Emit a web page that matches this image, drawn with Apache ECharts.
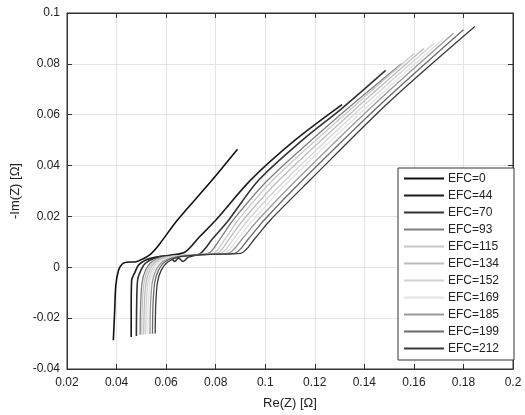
<!DOCTYPE html>
<html>
<head>
<meta charset="utf-8">
<script src="https://cdn.jsdelivr.net/npm/echarts@6/dist/echarts.min.js"></script>
<style>
    html, body { margin: 0; padding: 0; background: #fff; }
    #nyquist_chart { width: 525px; height: 415px; }
</style>
</head>
<body>
<div id="nyquist_chart"></div>
<script>
//曲线数据 [Re(Z), -Im(Z)] ----------------------------start
var efcNames = ['EFC=0', 'EFC=44', 'EFC=70', 'EFC=93', 'EFC=115', 'EFC=134', 'EFC=152', 'EFC=169', 'EFC=185', 'EFC=199', 'EFC=212'];
var efcColors = ['#111111', '#1c1c1c', '#333333', '#7f7f7f', '#c8c8c8', '#bcbcbc', '#d2d2d2', '#e2e2e2', '#9a9a9a', '#6a6a6a', '#3a3a3a'];

var efc0 = [[0.0387, -0.0287], [0.0392, -0.018], [0.0397, -0.0071], [0.0408, -0.0012], [0.0422, 0.0012], [0.0440, 0.0020], [0.0475, 0.0021], [0.0500, 0.0030], [0.0535, 0.0050], [0.0570, 0.0087], [0.0645, 0.0185], [0.0778, 0.0334], [0.0888, 0.0464]];
var efc44 = [[0.0459, -0.0274], [0.0459, -0.016], [0.0461, -0.0051], [0.0475, -0.0018], [0.0488, 0.0008], [0.0516, 0.0028], [0.0560, 0.0040], [0.0620, 0.0048], [0.0677, 0.0060], [0.0735, 0.0120], [0.0800, 0.0185], [0.0940, 0.0342], [0.1120, 0.0500], [0.1310, 0.0640]];
var efc70 = [[0.0480, -0.0270], [0.0481, -0.016], [0.0485, -0.0050], [0.0498, -0.0012], [0.0515, 0.0015], [0.0550, 0.0035], [0.0600, 0.0045], [0.0620, 0.0035], [0.0635, 0.0023], [0.0650, 0.0036], [0.0668, 0.0023], [0.0690, 0.0040], [0.0738, 0.0054], [0.0790, 0.0115], [0.0852, 0.0185], [0.0973, 0.0342], [0.1150, 0.0500], [0.1310, 0.0625], [0.1486, 0.0774]];
var efc93 = [[0.0495, -0.0265], [0.0497, -0.015], [0.0503, -0.006], [0.0517, -0.0012], [0.0542, 0.0022], [0.0590, 0.0040], [0.0680, 0.0048], [0.0770, 0.0055], [0.0820, 0.0115], [0.0870, 0.0185], [0.1010, 0.0342], [0.1280, 0.0580], [0.1550, 0.0800]];
var efc115 = [[0.0502, -0.0265], [0.0504, -0.015], [0.0511, -0.006], [0.0525, -0.0012], [0.0550, 0.0022], [0.0600, 0.0040], [0.0700, 0.0048], [0.0790, 0.0055], [0.0840, 0.0115], [0.0890, 0.0185], [0.1030, 0.0342], [0.1320, 0.0600], [0.1600, 0.0840]];
var efc134 = [[0.0510, -0.0264], [0.0512, -0.015], [0.0519, -0.006], [0.0533, -0.0012], [0.0558, 0.0022], [0.0610, 0.0040], [0.0710, 0.0049], [0.0805, 0.0055], [0.0857, 0.0115], [0.0910, 0.0185], [0.1055, 0.0342], [0.1350, 0.0610], [0.1640, 0.0860]];
var efc152 = [[0.0518, -0.0263], [0.0520, -0.015], [0.0527, -0.006], [0.0542, -0.0012], [0.0567, 0.0022], [0.0620, 0.0041], [0.0720, 0.0049], [0.0820, 0.0055], [0.0875, 0.0115], [0.0930, 0.0185], [0.1080, 0.0342], [0.1380, 0.0620], [0.1680, 0.0880]];
var efc169 = [[0.0526, -0.0262], [0.0528, -0.015], [0.0535, -0.006], [0.0550, -0.0012], [0.0576, 0.0022], [0.0630, 0.0041], [0.0730, 0.0050], [0.0835, 0.0055], [0.0892, 0.0115], [0.0950, 0.0185], [0.1100, 0.0342], [0.1410, 0.0630], [0.1720, 0.0900]];
var efc185 = [[0.0535, -0.0262], [0.0537, -0.015], [0.0544, -0.006], [0.0559, -0.0012], [0.0586, 0.0022], [0.0640, 0.0041], [0.0740, 0.0050], [0.0850, 0.0055], [0.0910, 0.0115], [0.0970, 0.0185], [0.1125, 0.0342], [0.1440, 0.0640], [0.1760, 0.0920]];
var efc199 = [[0.0545, -0.0261], [0.0547, -0.015], [0.0554, -0.006], [0.0569, -0.0012], [0.0596, 0.0022], [0.0650, 0.0042], [0.0760, 0.0051], [0.0875, 0.0055], [0.0935, 0.0115], [0.0995, 0.0185], [0.1150, 0.0342], [0.1470, 0.0645], [0.1800, 0.0934]];
var efc212 = [[0.0556, -0.0260], [0.0558, -0.015], [0.0565, -0.006], [0.0580, -0.0012], [0.0608, 0.0022], [0.0660, 0.0042], [0.0780, 0.0051], [0.0900, 0.0055], [0.0960, 0.0115], [0.1020, 0.0185], [0.1180, 0.0342], [0.1500, 0.0650], [0.1846, 0.0947]];
var efcData = [efc0, efc44, efc70, efc93, efc115, efc134, efc152, efc169, efc185, efc199, efc212];

//坐标轴刻度
var xTicks = [0.02, 0.04, 0.06, 0.08, 0.1, 0.12, 0.14, 0.16, 0.18, 0.2];
var yTicks = [-0.04, -0.02, 0, 0.02, 0.04, 0.06, 0.08, 0.1];
//曲线数据 ----------------------------end

var fontName = 'Liberation Sans, Arial, sans-serif';
var nyquistChartObj = echarts.init(document.getElementById('nyquist_chart'));

var seriesList = [];
for (var i = 0; i < efcData.length; i++) {
    seriesList.push({
        name: efcNames[i],
        type: 'line',
        data: efcData[i],
        symbol: 'none',
        smooth: 0.3,
        animation: false,
        lineStyle: {color: efcColors[i], width: i < 3 ? 1.6 : 1.3},
        itemStyle: {color: efcColors[i]}
    });
}

var tickStyle = {show: true, inside: true, length: 5, lineStyle: {color: '#333'}};

var nyquistChartObjOption = {
    backgroundColor: '#fff',
    animation: false,
    textStyle: {fontFamily: fontName},
    grid: {left: 67, right: 12, top: 13, bottom: 46, show: true, borderColor: '#333', borderWidth: 1},
    legend: {
        orient: 'vertical',
        left: 398,
        top: 168,
        data: efcNames,
        itemWidth: 40,
        itemHeight: 10,
        itemGap: 4,
        itemStyle: {opacity: 0},
        padding: [4, 15, 5, 5],
        backgroundColor: '#fff',
        borderColor: '#333',
        borderWidth: 1,
        borderRadius: 0,
        textStyle: {fontSize: 12, color: '#222', fontFamily: fontName, lineHeight: 13, padding: [0, 0, 0, -1]}
    },
    xAxis: [{
        type: 'value',
        min: xTicks[0],
        max: xTicks[xTicks.length - 1],
        interval: 0.02,
        name: 'Re(Z) [Ω]',
        nameLocation: 'middle',
        nameGap: 28,
        nameTextStyle: {fontSize: 13, color: '#222'},
        axisLine: {show: true, onZero: false, lineStyle: {color: '#333'}},
        axisTick: tickStyle,
        axisLabel: {fontSize: 12, color: '#222', margin: 8},
        splitLine: {show: true, lineStyle: {color: '#e4e4e4', width: 1}}
    }, {
        type: 'value',
        position: 'top',
        min: xTicks[0],
        max: xTicks[xTicks.length - 1],
        interval: 0.02,
        axisLine: {show: true, onZero: false, lineStyle: {color: '#333'}},
        axisTick: tickStyle,
        axisLabel: {show: false},
        splitLine: {show: false}
    }],
    yAxis: [{
        type: 'value',
        min: yTicks[0],
        max: yTicks[yTicks.length - 1],
        interval: 0.02,
        name: '-Im(Z) [Ω]',
        nameLocation: 'middle',
        nameGap: 44,
        nameTextStyle: {fontSize: 13, color: '#222'},
        axisLine: {show: true, onZero: false, lineStyle: {color: '#333'}},
        axisTick: tickStyle,
        axisLabel: {fontSize: 12, color: '#222', margin: 7},
        splitLine: {show: true, lineStyle: {color: '#e4e4e4', width: 1}}
    }, {
        type: 'value',
        position: 'right',
        min: yTicks[0],
        max: yTicks[yTicks.length - 1],
        interval: 0.02,
        axisLine: {show: true, onZero: false, lineStyle: {color: '#333'}},
        axisTick: tickStyle,
        axisLabel: {show: false},
        splitLine: {show: false}
    }],
    series: seriesList
};
nyquistChartObj.setOption(nyquistChartObjOption);
</script>
</body>
</html>
